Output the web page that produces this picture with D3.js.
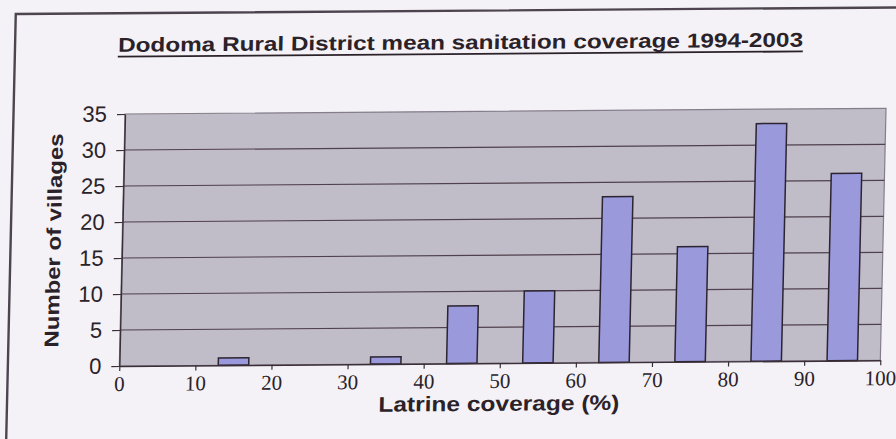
<!DOCTYPE html>
<html>
<head>
<meta charset="utf-8">
<script src="https://cdn.jsdelivr.net/npm/d3@7"></script>
<style>
  html, body { margin: 0; padding: 0; background: #f4f2f6; }
  svg { display: block; }
</style>
</head>
<body>
<script>
// Histogram of villages by latrine coverage band (10% bins)
const coverageBins = ["0-10", "10-20", "20-30", "30-40", "40-50", "50-60", "60-70", "70-80", "80-90", "90-100"];
const villageCounts = [0, 1, 0, 1, 8, 10, 23, 16, 33, 26];
const xTicks = [0, 10, 20, 30, 40, 50, 60, 70, 80, 90, 100];
const yTicks = [0, 5, 10, 15, 20, 25, 30, 35];
const chartTitle = "Dodoma Rural District mean sanitation coverage 1994-2003";
const xTitle = "Latrine coverage (%)";
const yTitle = "Number of villages";

const W = 896, H = 439;
const plot = { left: 125, top: 114, width: 761, height: 252 };

const svg = d3.select("body").append("svg")
  .attr("width", W).attr("height", H);

svg.append("rect").attr("width", W).attr("height", H).attr("fill", "#f4f2f6");

// the sheet sits slightly skewed on the page
const skewB = -0.0075, skewC = -0.0225;
const root = svg.append("g")
  .attr("transform", `matrix(1,${skewB},${skewC},1,${-skewC * plot.top},${-skewB * plot.left})`);

// outer frame
root.append("rect")
  .attr("x", 13.5).attr("y", 13.2).attr("width", 920).attr("height", 460)
  .attr("fill", "none").attr("stroke", "#4d4450").attr("stroke-width", 2.4);

// title
const titleX = 459, titleW = 685;
root.append("text")
  .attr("x", titleX).attr("y", 51.7)
  .attr("text-anchor", "middle")
  .attr("font-family", "'Liberation Sans', Arial, sans-serif")
  .attr("font-weight", "bold").attr("font-size", 20)
  .attr("fill", "#2b2229")
  .attr("textLength", titleW).attr("lengthAdjust", "spacingAndGlyphs")
  .text(chartTitle);
root.append("line")
  .attr("x1", titleX - titleW / 2).attr("x2", titleX + titleW / 2)
  .attr("y1", 56.5).attr("y2", 56.5)
  .attr("stroke", "#2b2229").attr("stroke-width", 1.8);

const x = d3.scaleLinear().domain([0, 100]).range([plot.left, plot.left + plot.width]);
const xBand = d3.scaleBand().domain(coverageBins)
  .range([plot.left, plot.left + plot.width])
  .paddingInner(0.6).paddingOuter(0.3);
const y = d3.scaleLinear().domain([0, 35]).range([plot.top + plot.height, plot.top]);

// plot area
root.append("rect")
  .attr("x", plot.left).attr("y", plot.top)
  .attr("width", plot.width).attr("height", plot.height)
  .attr("fill", "#c0bcc8").attr("stroke", "#857d8a").attr("stroke-width", 1.2);

// gridlines
root.append("g").selectAll("line")
  .data(yTicks.filter(v => v > 0 && v < 35))
  .join("line")
  .attr("x1", plot.left).attr("x2", plot.left + plot.width)
  .attr("y1", d => y(d)).attr("y2", d => y(d))
  .attr("stroke", "#4f414d").attr("stroke-width", 1.2);

// bars
root.append("g").selectAll("rect")
  .data(coverageBins.map((b, i) => ({ bin: b, n: villageCounts[i] })).filter(d => d.n > 0))
  .join("rect")
  .attr("x", d => xBand(d.bin))
  .attr("width", xBand.bandwidth())
  .attr("y", d => y(d.n))
  .attr("height", d => y(0) - y(d.n))
  .attr("fill", "#9a99dc")
  .attr("stroke", "#2c2430").attr("stroke-width", 1.5);

// y axis
const yAxis = root.append("g")
  .attr("transform", `translate(${plot.left},0)`)
  .call(d3.axisLeft(y).tickValues(yTicks).tickSize(8).tickPadding(10).tickSizeOuter(0));
yAxis.select(".domain").attr("stroke", "#3a2f38").attr("stroke-width", 1.4);
yAxis.selectAll(".tick line").attr("stroke", "#3a2f38").attr("stroke-width", 1.2);
yAxis.selectAll(".tick text")
  .attr("font-family", "'Liberation Sans', Arial, sans-serif")
  .attr("font-size", 22).attr("fill", "#2b2229");

// x axis
const xAxis = root.append("g")
  .attr("transform", `translate(0,${plot.top + plot.height})`)
  .call(d3.axisBottom(x).tickValues(xTicks).tickSize(5).tickPadding(5).tickSizeOuter(0));
xAxis.select(".domain").attr("stroke", "#3a2f38").attr("stroke-width", 1.4);
xAxis.selectAll(".tick line").attr("stroke", "#3a2f38").attr("stroke-width", 1.2);
xAxis.selectAll(".tick text")
  .attr("font-family", "'Liberation Serif', 'Times New Roman', serif")
  .attr("font-size", 21).attr("fill", "#2b2229");

// axis titles
root.append("text")
  .attr("x", plot.left + plot.width / 2).attr("y", 413.6)
  .attr("text-anchor", "middle")
  .attr("font-family", "'Liberation Sans', Arial, sans-serif")
  .attr("font-weight", "bold").attr("font-size", 21)
  .attr("fill", "#2b2229")
  .attr("textLength", 241).attr("lengthAdjust", "spacingAndGlyphs")
  .text(xTitle);

root.append("text")
  .attr("transform", `translate(63.5,${plot.top + plot.height / 2}) rotate(-90)`)
  .attr("text-anchor", "middle")
  .attr("font-family", "'Liberation Sans', Arial, sans-serif")
  .attr("font-weight", "bold").attr("font-size", 20)
  .attr("fill", "#2b2229")
  .attr("textLength", 214).attr("lengthAdjust", "spacingAndGlyphs")
  .text(yTitle);
</script>
</body>
</html>
